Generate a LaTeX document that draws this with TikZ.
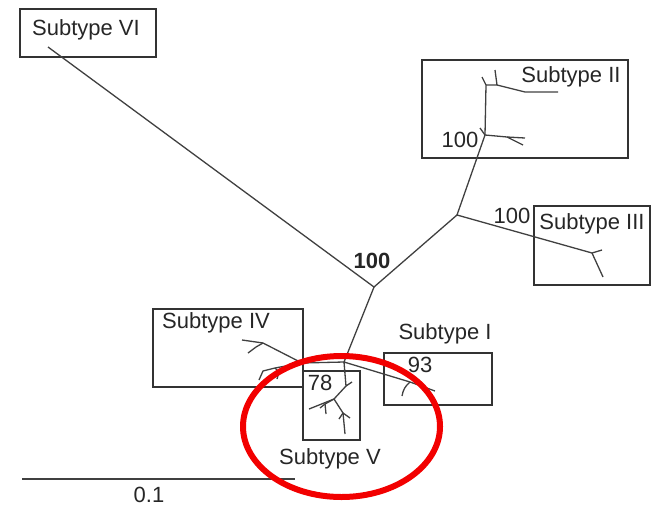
\documentclass[tikz,border=0pt]{standalone}
\usepackage{fontspec}
\setmainfont{Liberation Sans}
\begin{document}
\begin{tikzpicture}[x=1pt,y=-1pt,
  branch/.style={draw=black!75, line width=1.3pt},
  frame/.style={draw=black!80, line width=1.2pt},
  lbl/.style={anchor=base, inner sep=0pt, text=black!85, font=\fontsize{22}{24}\selectfont},
  oval/.style={draw=red!95!black, line width=6pt}]
\useasboundingbox (0,0) rectangle (652,506);
% boxes
\draw[frame] (20,9) rectangle (156,57);
\draw[frame] (422,60) rectangle (628,158);
\draw[frame] (534,206) rectangle (650,285);
\draw[frame] (153,309) rectangle (303,387);
\draw[frame] (384,353) rectangle (492,405);
\draw[frame] (303,371) rectangle (360,440);
% junctions and leaves
\coordinate (c0) at (374,287);
\coordinate (vi) at (48,47);
\coordinate (r) at (457,215);
\coordinate (t3) at (592,253);
\coordinate (t3a) at (602,250);
\coordinate (t3b) at (603,277);
\coordinate (a) at (485,135);
\coordinate (a1) at (480,128);
\coordinate (a2) at (507,137);
\coordinate (a3) at (525,138);
\coordinate (a4) at (523,145);
\coordinate (b) at (486,85);
\coordinate (b1) at (482,77);
\coordinate (cc) at (497,85);
\coordinate (c1) at (495,70);
\coordinate (c2) at (525,92);
\coordinate (c3) at (558,92);
\coordinate (j) at (344,362);
\coordinate (i1) at (410,382);
\coordinate (i2) at (435,391);
\coordinate (i3) at (402,396);
\coordinate (k) at (302,363);
\coordinate (p) at (263,343);
\coordinate (p1) at (242,340);
\coordinate (p2) at (256,347);
\coordinate (p3) at (248,353);
\coordinate (l) at (275,368);
\coordinate (l1) at (263,371);
\coordinate (l2) at (259,380);
\coordinate (l3) at (279,372);
\coordinate (l4) at (277,379);
\coordinate (v1) at (346,386);
\coordinate (v1a) at (352,382);
\coordinate (v2) at (334,399);
\coordinate (v2a) at (309,409);
\coordinate (v3) at (325,404);
\coordinate (v3a) at (326,414);
\coordinate (v3b) at (320,408);
\coordinate (v4) at (343,413);
\coordinate (v4a) at (345,434);
\coordinate (v4b) at (339,419);
\coordinate (v4c) at (350,418);
\coordinate (s0) at (22,479);
\coordinate (s1) at (295,479);
% tree
\draw[branch] (vi) -- (c0) -- (r) -- (t3) -- (t3a);
\draw[branch] (t3) -- (t3b);
\draw[branch] (r) -- (a) -- (a2) -- (a3);
\draw[branch] (a2) -- (a4);
\draw[branch] (a) -- (a1);
\draw[branch] (a) -- (b) -- (b1);
\draw[branch] (b) -- (cc) -- (c1);
\draw[branch] (cc) -- (c2) -- (c3);
\draw[branch] (c0) -- (j) -- (i1) -- (i2);
\draw[branch] (i1) to[bend right=20] (i3);
\draw[branch] (j) -- (k) -- (p) -- (p1);
\draw[branch] (p) -- (p2) -- (p3);
\draw[branch] (k) -- (l) -- (l1) -- (l2);
\draw[branch] (l) -- (l3) -- (l4);
\draw[branch] (j) -- (v1) -- (v1a);
\draw[branch] (v1) -- (v2) -- (v2a);
\draw[branch] (v2) -- (v3) -- (v3a);
\draw[branch] (v3) -- (v3b);
\draw[branch] (v2) -- (v4) -- (v4a);
\draw[branch] (v4) -- (v4b);
\draw[branch] (v4) -- (v4c);
\draw[branch] (s0) -- (s1);
% labels
\node[lbl] (tvi) at (86,35) {Subtype VI};
\node[lbl] (tii) at (571,82) {Subtype II};
\node[lbl] (bii) at (460,147) {100};
\node[lbl] (tiii) at (592,229) {Subtype III};
\node[lbl] (biii) at (512,223) {100};
\node[lbl, font=\fontsize{22}{24}\selectfont\bfseries] (bc) at (372,268) {100};
\node[lbl] (tiv) at (216,328) {Subtype IV};
\node[lbl] (ti) at (445,339) {Subtype I};
\node[lbl] (bi) at (420,372) {93};
\node[lbl] (bv) at (320,390) {78};
\node[lbl] (tv) at (330,464) {Subtype V};
\node[lbl] (sc) at (149,502) {0.1};
% red ellipse
\draw[oval] (341.5,426.5) ellipse [x radius=98.5, y radius=70.5];
\end{tikzpicture}
\end{document}
